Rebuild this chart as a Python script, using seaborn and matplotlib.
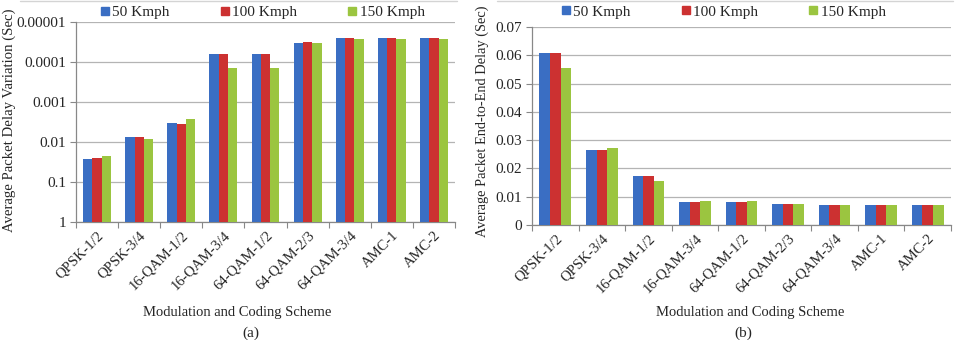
import numpy as np
import pandas as pd
import matplotlib
matplotlib.use('Agg')
import matplotlib.pyplot as plt
from matplotlib.lines import Line2D
import seaborn as sns

# Data
schemes = ['QPSK-1/2', 'QPSK-3/4', '16-QAM-1/2', '16-QAM-3/4', '64-QAM-1/2',
           '64-QAM-2/3', '64-QAM-3/4', 'AMC-1', 'AMC-2']
speeds = ['50 Kmph', '100 Kmph', '150 Kmph']

# (a) average packet delay variation (sec)
pdv_50 = [0.027, 0.0074, 0.0033, 6.2e-5, 6.2e-5, 3.35e-5, 2.5e-5, 2.5e-5, 2.5e-5]
pdv_100 = [0.025, 0.0074, 0.0035, 6.2e-5, 6.2e-5, 3.1e-5, 2.5e-5, 2.5e-5, 2.5e-5]
pdv_150 = [0.023, 0.0083, 0.0026, 1.44e-4, 1.44e-4, 3.35e-5, 2.65e-5, 2.65e-5, 2.65e-5]

# (b) average packet end-to-end delay (sec)
e2e_50 = [0.0608, 0.0266, 0.0172, 0.0081, 0.0081, 0.0073, 0.0069, 0.0069, 0.0069]
e2e_100 = [0.0608, 0.0266, 0.0172, 0.0081, 0.0081, 0.0073, 0.0069, 0.0069, 0.0069]
e2e_150 = [0.0556, 0.0271, 0.0155, 0.0085, 0.0085, 0.0073, 0.0069, 0.0069, 0.0069]

pdv_ticks = [1, 0.1, 0.01, 0.001, 0.0001, 0.00001]
pdv_ticklabels = ['1', '0.1', '0.01', '0.001', '0.0001', '0.00001']
e2e_ticks = [0, 0.01, 0.02, 0.03, 0.04, 0.05, 0.06, 0.07]
e2e_ticklabels = ['0', '0.01', '0.02', '0.03', '0.04', '0.05', '0.06', '0.07']

colors = ['#3A6EC3', '#CC3131', '#9BC540']
grid_col = '#b4b4b4'


def long_table(a, b, c):
    df = pd.DataFrame({'Scheme': schemes, speeds[0]: a, speeds[1]: b, speeds[2]: c})
    return df.melt(id_vars='Scheme', var_name='Speed', value_name='Value')


sns.set_style('white')
plt.rcParams['font.family'] = ['Liberation Serif', 'DejaVu Serif']
plt.rcParams['font.size'] = 10.5

fig = plt.figure(figsize=(9.62, 3.40), dpi=100)
ax1 = fig.add_axes([76 / 962, 1 - 222 / 340, 379 / 962, 200 / 340])
ax2 = fig.add_axes([532 / 962, 1 - 225 / 340, 419 / 962, 198 / 340])

sns.barplot(data=long_table(pdv_50, pdv_100, pdv_150), x='Scheme', y='Value',
            hue='Speed', palette=colors, width=0.66, gap=0, saturation=1,
            legend=False, linewidth=0, ax=ax1, zorder=3)
sns.barplot(data=long_table(e2e_50, e2e_100, e2e_150), x='Scheme', y='Value',
            hue='Speed', palette=colors, width=0.68, gap=0, saturation=1,
            legend=False, linewidth=0, ax=ax2, zorder=3)

# (a) uses a reversed log axis with the bars standing on 1
ax1.set_yscale('log')
for p in ax1.patches:
    h = p.get_height()
    p.set_y(1)
    p.set_height(h - 1)
ax1.set_ylim(1, 1e-5)
ax1.set_yticks(pdv_ticks)
ax1.set_yticklabels(pdv_ticklabels)
ax1.yaxis.set_minor_locator(matplotlib.ticker.NullLocator())

ax2.set_ylim(0, 0.07)
ax2.set_yticks(e2e_ticks)
ax2.set_yticklabels(e2e_ticklabels)

for ax in (ax1, ax2):
    ax.set_xlim(-0.5, len(schemes) - 0.5)
    ax.set_xticks(range(len(schemes)))
    ax.set_xticklabels(schemes, rotation=45, ha='right', rotation_mode='anchor')
    ax.set_xticks(np.arange(len(schemes) + 1) - 0.5, minor=True)
    ax.tick_params(axis='x', which='major', length=0, pad=5, labelsize=10.5)
    ax.tick_params(axis='x', which='minor', length=4, width=0.8, color='#888888',
                   direction='out', bottom=True)
    ax.tick_params(axis='y', which='major', length=4, width=0.8, color='#888888',
                   direction='out', left=True, pad=3, labelsize=11)
    ax.grid(axis='y', color=grid_col, linewidth=0.9, zorder=0)
    ax.set_axisbelow(True)
    for s in ('top', 'right'):
        ax.spines[s].set_visible(False)
    for s in ('left', 'bottom'):
        ax.spines[s].set_color('#888888')
        ax.spines[s].set_linewidth(0.9)
    ax.set_xlabel('Modulation and Coding Scheme', fontsize=10.5)

ax1.set_ylabel('Average Packet Delay Variation (Sec)', fontsize=10.6)
ax2.set_ylabel('Average Packet End-to-End Delay (Sec)', fontsize=10.4)
ax1.yaxis.set_label_coords(-0.158, 0.51)
ax2.yaxis.set_label_coords(-0.103, 0.525)
ax1.xaxis.set_label_coords(0.425, -0.42)
ax2.xaxis.set_label_coords(0.52, -0.41)

handles = [Line2D([], [], marker='s', linestyle='', markersize=6, color=c) for c in colors]
ax1.legend(handles, speeds, loc='center', bbox_to_anchor=(0.49, 1.05), ncol=3,
           frameon=False, handletextpad=0.1, columnspacing=3.2, fontsize=11,
           handlelength=0.8)
ax2.legend(handles, speeds, loc='center', bbox_to_anchor=(0.455, 1.076), ncol=3,
           frameon=False, handletextpad=0.1, columnspacing=3.2, fontsize=11,
           handlelength=0.8)

# faint chart-area borders at the top
fig.add_artist(Line2D([20 / 962, 457 / 962], [0.996, 0.996], color='#d4d4d4', lw=1))
fig.add_artist(Line2D([497 / 962, 953 / 962], [0.996, 0.996], color='#d4d4d4', lw=1))

fig.text(251 / 962, 1 - 333 / 340, '(a)', ha='center', va='center', fontsize=11)
fig.text(743 / 962, 1 - 333 / 340, '(b)', ha='center', va='center', fontsize=11)

fig.savefig('out.png', dpi=100)
